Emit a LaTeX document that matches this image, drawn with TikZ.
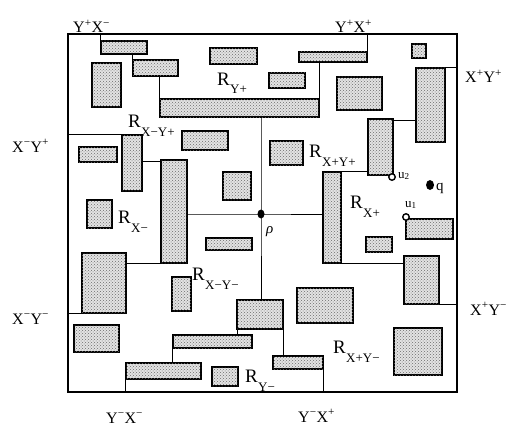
\documentclass[tikz,border=0pt]{standalone}
\usepackage{fontspec}
\setmainfont{Liberation Serif}
\usetikzlibrary{patterns,fit,shapes.geometric}
\newcommand{\blk}[5]{\node[blk, fit={(#2,#3) (#4,#5)}] (#1) {};}
\newcommand{\Rlab}[1]{{\fontsize{19}{19}\selectfont R}\kern0.3pt\raisebox{-9pt}{\fontsize{13}{13}\selectfont #1}}
\newcommand{\Clab}[4]{#1\textsuperscript{#2}#3\textsuperscript{#4}}
\begin{document}
\begin{tikzpicture}[x=1pt,y=-1pt,
  blk/.style={draw=black, line width=1.9pt, inner sep=0pt, fill=gray!22,
    postaction={pattern=crosshatch dots, pattern color=gray!85!black}},
  framebox/.style={draw=black, line width=1.4pt, inner sep=0pt},
  conn/.style={draw=black, line width=1pt},
  rl/.style={anchor=base west, inner sep=0pt},
  cl/.style={anchor=base west, inner sep=0pt, font=\fontsize{16}{16}\selectfont},
  opendot/.style={circle, draw=black, line width=1.4pt, fill=white, inner sep=0pt, minimum size=6.5pt},
  fulldot/.style={ellipse, fill=black, inner sep=0pt, minimum width=7pt, minimum height=9pt}]
\useasboundingbox (0,0) rectangle (513,425);
\node[framebox, fit={(68,34) (457,392)}] (frame) {};
% blocks
\blk{A}{101}{41}{147}{54}
\blk{B}{133}{60}{178}{76}
\blk{C}{92}{63}{121}{107}
\blk{D}{160}{99}{319}{117}
\blk{E}{210}{48}{257}{64}
\blk{F}{269}{73}{305}{88}
\blk{G}{299}{52}{367}{62}
\blk{H}{337}{77}{382}{110}
\blk{I}{412}{44}{426}{58}
\blk{J}{416}{68}{445}{142}
\blk{K}{368}{119}{393}{175}
\blk{L}{323}{172}{341}{263}
\blk{M}{406}{219}{453}{239}
\blk{N}{366}{237}{392}{252}
\blk{O}{404}{256}{439}{304}
\blk{P}{297}{288}{353}{323}
\blk{Q}{394}{328}{442}{375}
\blk{S}{237}{300}{283}{329}
\blk{T}{273}{356}{323}{369}
\blk{U}{173}{335}{252}{348}
\blk{V}{126}{363}{201}{379}
\blk{W}{212}{367}{238}{386}
\blk{X}{74}{325}{119}{352}
\blk{Y}{82}{253}{126}{313}
\blk{Z}{161}{160}{187}{263}
\blk{AA}{172}{277}{191}{311}
\blk{BB}{122}{135}{142}{191}
\blk{CC}{79}{147}{117}{162}
\blk{DD}{182}{131}{228}{150}
\blk{EE}{223}{172}{251}{200}
\blk{FF}{270}{141}{303}{165}
\blk{GG}{206}{238}{252}{250}
\blk{HH}{87}{200}{112}{228}
\coordinate (p) at (261,214);
% connectors
\draw[conn] (A.north west) -- (A.north west |- frame.north);
\draw[conn] (B.north west |- A.south) -- (B.north west);
\draw[conn] (D.north west |- B.south) -- (D.north west);
\draw[conn] (G.north east) -- (G.north east |- frame.north);
\draw[conn] (D.north east) -- (D.north east |- G.south);
\draw[conn] (p |- D.south) -- (p) -- (p |- S.north);
\draw[conn] (p -| Z.east) -- (p) -- (p -| L.west);
\draw[conn] (J.north east) -- (J.north east -| frame.east);
\draw[conn] ([yshift=-2pt]K.north east) -- ([yshift=-2pt]K.north east -| J.west);
\draw[conn] (L.north west) -- (L.north west -| K.west);
\draw[conn] (L.south east) -- (L.south east -| O.west);
\draw[conn] (O.south east) -- (O.south east -| frame.east);
\draw[conn] (S.south east) -- (S.south east |- T.north);
\draw[conn] (T.south east) -- (T.south east |- frame.south);
\draw[conn] ([xshift=1pt]S.south west) -- ([xshift=1pt]S.south west |- U.north);
\draw[conn] (U.south west) -- (U.south west |- V.north);
\draw[conn] (V.south west) -- (V.south west |- frame.south);
\draw[conn] (Y.south west) -- (Y.south west -| frame.west);
\draw[conn] (Z.south west) -- (Z.south west -| Y.east);
\draw[conn] ([yshift=-2pt]Z.north west) -- ([yshift=-2pt]Z.north west -| BB.east);
\draw[conn] (BB.north west) -- (BB.north west -| frame.west);
% points
\node[fulldot] (pdot) at (p) {};
\node[opendot] (u2) at (392,177) {};
\node[opendot] (u1) at (406,217) {};
\node[fulldot, minimum width=8pt, minimum height=10pt] (q) at (430,185) {};
% point labels
\node[rl, font=\fontsize{15}{15}\selectfont\itshape] (plab) at (266,233) {ρ};
\node[rl, font=\fontsize{13}{13}\selectfont] (u2lab) at (398,178) {u\textsubscript{2}};
\node[rl, font=\fontsize{15}{15}\selectfont] (qlab) at (436,190) {q};
\node[rl, font=\fontsize{13}{13}\selectfont] (u1lab) at (405,207) {u\textsubscript{1}};
% region labels
\node[rl] (rYp) at (217,85) {\Rlab{Y+}};
\node[rl] (rXmYp) at (128,127) {\Rlab{X−Y+}};
\node[rl] (rXpYp) at (309,157) {\Rlab{X+Y+}};
\node[rl] (rXm) at (118,223) {\Rlab{X−}};
\node[rl] (rXp) at (350,208) {\Rlab{X+}};
\node[rl] (rXmYm) at (192,280) {\Rlab{X−Y−}};
\node[rl] (rXpYm) at (333,353) {\Rlab{X+Y−}};
\node[rl] (rYm) at (245,382) {\Rlab{Y−}};
% corner labels
\node[cl] (c1) at (73,33) {\Clab{Y}{+}{X}{−}};
\node[cl] (c2) at (335,33) {\Clab{Y}{+}{X}{+}};
\node[cl] (c3) at (465,83) {\Clab{X}{+}{Y}{+}};
\node[cl] (c4) at (12,152) {\Clab{X}{−}{Y}{+}};
\node[cl] (c5) at (12,324) {\Clab{X}{−}{Y}{−}};
\node[cl] (c6) at (470,315) {\Clab{X}{+}{Y}{−}};
\node[cl] (c7) at (106,423) {\Clab{Y}{−}{X}{−}};
\node[cl] (c8) at (298,422) {\Clab{Y}{−}{X}{+}};
\end{tikzpicture}
\end{document}
